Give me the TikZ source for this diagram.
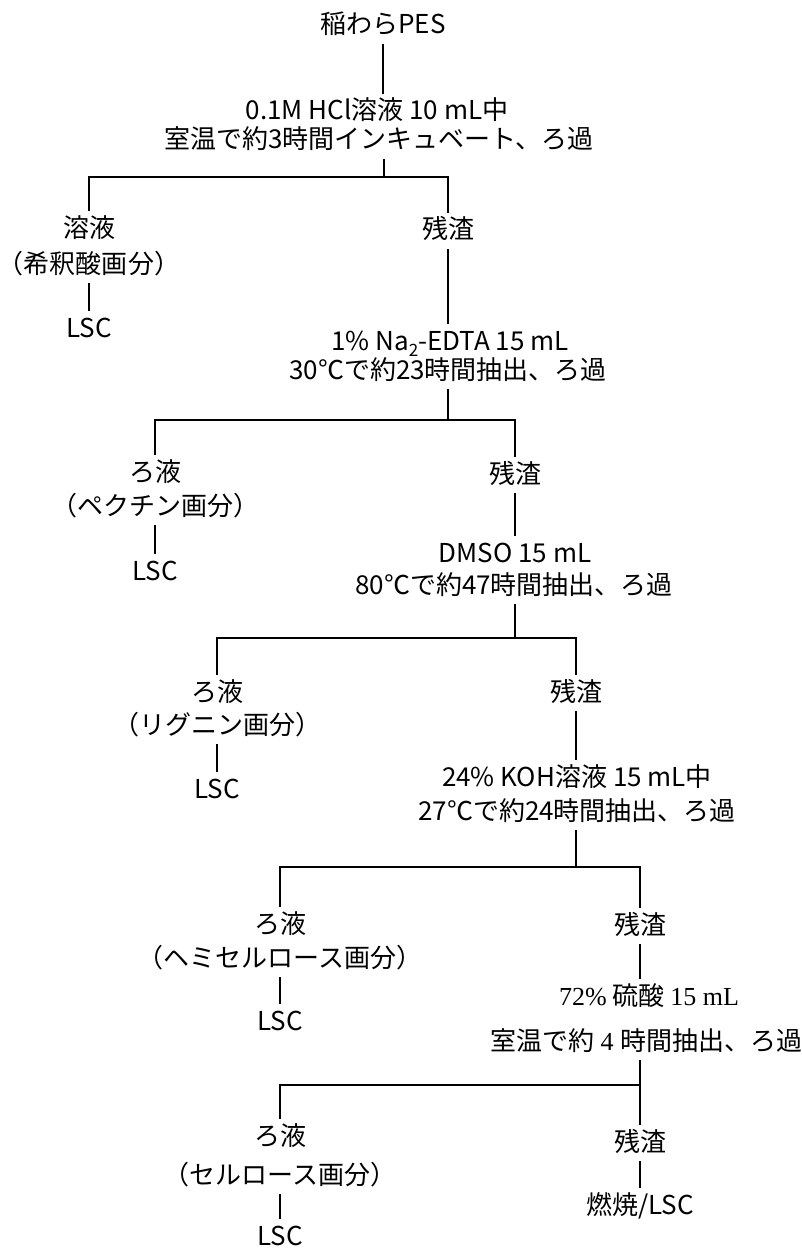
\documentclass[tikz,border=0pt]{standalone}
\usepackage{fontspec}
\setmainfont{Noto Sans CJK JP}
\newfontfamily\serifl{Liberation Serif}
\begin{document}
\begin{tikzpicture}[x=1pt,y=-1pt,
  lbl/.style={inner xsep=2pt, inner ysep=6pt, text height=20pt, text depth=4pt, font=\fontsize{26}{31}\selectfont},
  conn/.style={line width=1.7pt}]
\useasboundingbox (0,0) rectangle (802,1249);
% top
\node[lbl] (n0) at (383,26) {稲わらPES};
\node[lbl] (r0a) at (377,112) {0.1M HCl溶液 10 mL中};
\node[lbl] (r0b) at (379,141) {室温で約3時間インキュベート、ろ過};
\coordinate (h0) at (384,177);
\draw[conn] (n0.south) -- (n0.south |- r0a.north);
\draw[conn] (h0 |- r0b.south) -- (h0);
% block 1
\node[lbl] (a1) at (89,229) {溶液};
\node[lbl] (a1b) at (89,265) {（希釈酸画分）};
\node[lbl] (a1c) at (89,329) {LSC};
\node[lbl] (b1) at (448,231) {残渣};
\node[lbl] (r1a) at (450,342) {1\% Na\raisebox{-0.25em}{\fontsize{17}{20}\selectfont 2}-EDTA 15 mL};
\node[lbl] (r1b) at (448,371) {30℃で約23時間抽出、ろ過};
\coordinate (h1) at (448,420);
\draw[conn] (a1.north) |- (h0) -| (b1.north);
\draw[conn] (a1b.south) -- (a1c.north);
\draw[conn] (b1.south) -- (b1.south |- r1a.north);
\draw[conn] (h1 |- r1b.south) -- (h1);
% block 2
\node[lbl] (a2) at (155,473) {ろ液};
\node[lbl] (a2b) at (155,507) {（ペクチン画分）};
\node[lbl] (a2c) at (155,572) {LSC};
\node[lbl] (b2) at (515,475) {残渣};
\node[lbl] (r2a) at (515,554) {DMSO 15 mL};
\node[lbl] (r2b) at (514,586) {80℃で約47時間抽出、ろ過};
\coordinate (h2) at (515,638);
\draw[conn] (a2.north) |- (h1) -| (b2.north);
\draw[conn] (a2b.south) -- (a2c.north);
\draw[conn] (b2.south) -- (b2.south |- r2a.north);
\draw[conn] (h2 |- r2b.south) -- (h2);
% block 3
\node[lbl] (a3) at (217,693) {ろ液};
\node[lbl] (a3b) at (217,726) {（リグニン画分）};
\node[lbl] (a3c) at (217,790) {LSC};
\node[lbl] (b3) at (576,693) {残渣};
\node[lbl] (r3a) at (577,778) {24\% KOH溶液 15 mL中};
\node[lbl] (r3b) at (577,812) {27℃で約24時間抽出、ろ過};
\coordinate (h3) at (576,867);
\draw[conn] (a3.north) |- (h2) -| (b3.north);
\draw[conn] (a3b.south) -- (a3c.north);
\draw[conn] (b3.south) -- (b3.south |- r3a.north);
\draw[conn] (h3 |- r3b.south) -- (h3);
% block 4
\node[lbl] (a4) at (280,925) {ろ液};
\node[lbl] (a4b) at (280,959) {（ヘミセルロース画分）};
\node[lbl] (a4c) at (280,1022) {LSC};
\node[lbl] (b4) at (640,926) {残渣};
\node[lbl] (r4a) at (649,997) {{\serifl 72\%} 硫酸 {\serifl 15 mL}};
\node[lbl] (r4b) at (646,1042) {室温で約{\serifl\ 4 }時間抽出、ろ過};
\coordinate (h4) at (640,1085);
\draw[conn] (a4.north) |- (h3) -| (b4.north);
\draw[conn] (a4b.south) -- (a4c.north);
\draw[conn] (b4.south) -- (b4.south |- r4a.north);
\draw[conn] (h4 |- r4b.south) -- (h4);
% block 5
\node[lbl] (a5) at (280,1137) {ろ液};
\node[lbl] (a5b) at (280,1176) {（セルロース画分）};
\node[lbl] (a5c) at (280,1237) {LSC};
\node[lbl] (b5) at (640,1143) {残渣};
\node[lbl] (b5c) at (640,1206) {燃焼/LSC};
\draw[conn] (a5.north) |- (h4) -| (b5.north);
\draw[conn] (a5b.south) -- (a5c.north);
\draw[conn] (b5.south) -- (b5c.north);
\end{tikzpicture}
\end{document}
